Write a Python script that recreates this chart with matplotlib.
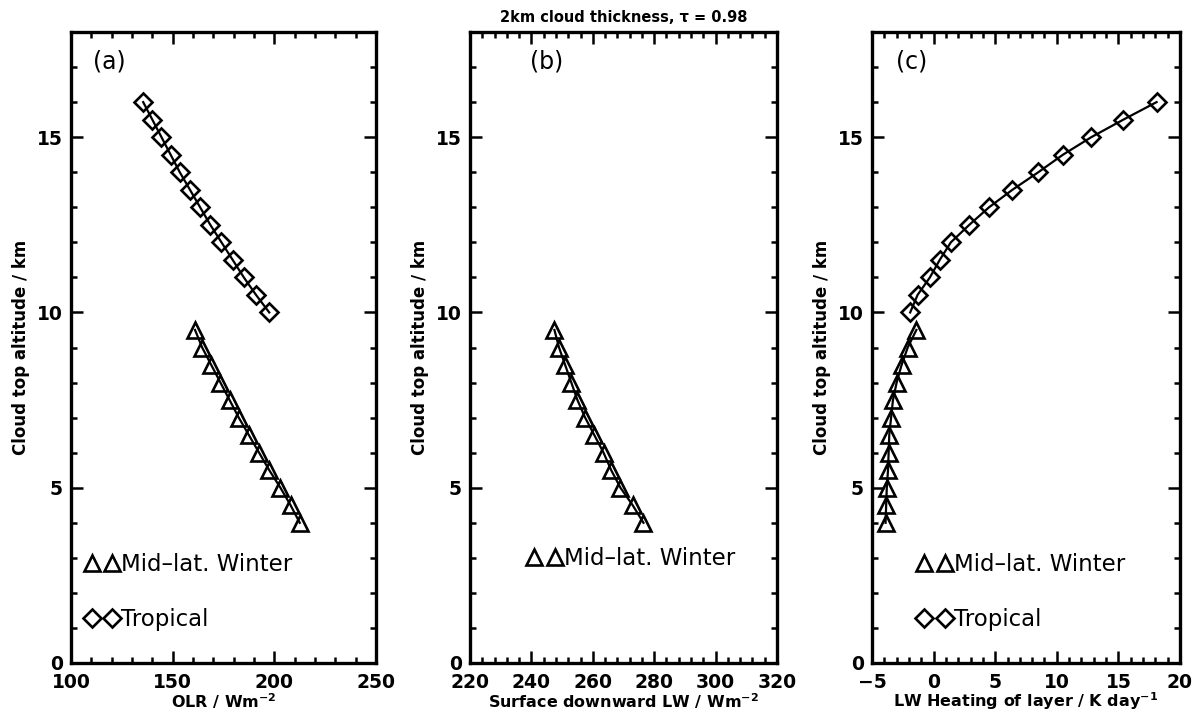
import matplotlib
matplotlib.use("Agg")
import matplotlib.pyplot as plt
from matplotlib.ticker import MultipleLocator
from matplotlib.lines import Line2D

# ---------------- data ----------------
alt_trop = [16.0, 15.5, 15.0, 14.5, 14.0, 13.5, 13.0, 12.5, 12.0, 11.5, 11.0, 10.5, 10.0]
alt_mlw = [9.5, 9.0, 8.5, 8.0, 7.5, 7.0, 6.5, 6.0, 5.5, 5.0, 4.5, 4.0]

olr_trop = [135.5, 140.0, 144.5, 149.0, 153.5, 158.5, 163.5, 168.5, 174.0, 179.5, 185.0, 191.0, 197.5]
olr_mlw = [161.0, 164.5, 169.0, 173.5, 178.0, 182.5, 187.5, 192.5, 197.5, 203.0, 208.0, 212.5]

sdlw_mlw = [247.5, 249.0, 251.0, 253.0, 255.0, 257.5, 260.5, 263.5, 266.0, 269.0, 273.0, 276.5]

heat_trop = [18.1, 15.4, 12.8, 10.5, 8.5, 6.4, 4.5, 2.9, 1.4, 0.5, -0.3, -1.3, -1.9]
heat_mlw = [-1.4, -2.1, -2.6, -3.0, -3.3, -3.45, -3.6, -3.65, -3.7, -3.8, -3.85, -3.9]

panel_labels = ["(a)", "(b)", "(c)"]
xlabels = [r"OLR / Wm$^{-2}$", r"Surface downward LW / Wm$^{-2}$",
           r"LW Heating of layer / K day$^{-1}$"]
ylabel = "Cloud top altitude / km"
title = "2km cloud thickness, \u03c4 = 0.98"
leg_mlw = "Mid\u2013lat. Winter"
leg_trop = "Tropical"

xlims = [(100, 250), (220, 320), (-5, 20)]
xmajor = [50, 20, 5]
xminor = [10, 4, 1]

# ---------------- style ----------------
plt.rcParams['font.family'] = ['DejaVu Sans']
plt.rcParams['mathtext.default'] = 'bf'

fig = plt.figure(figsize=(11.95, 7.13), dpi=100)

W, H = 1195.0, 713.0
top_px, bot_px = 32.0, 663.0
lefts = [71.0, 470.0, 872.0]
widths = [305.0, 307.0, 308.0]
hpx = bot_px - top_px

mk_kw = dict(markerfacecolor='none', markeredgecolor='black', markeredgewidth=1.9)
tri_ms = 11
dia_ms = 9.5

axes = []
for i in range(3):
    ax = fig.add_axes([lefts[i] / W, 1 - bot_px / H, widths[i] / W, hpx / H])
    axes.append(ax)
    ax.set_xlim(*xlims[i])
    ax.set_ylim(0, 18)
    ax.xaxis.set_major_locator(MultipleLocator(xmajor[i]))
    ax.xaxis.set_minor_locator(MultipleLocator(xminor[i]))
    ax.yaxis.set_major_locator(MultipleLocator(5))
    ax.yaxis.set_minor_locator(MultipleLocator(1))
    ax.tick_params(which='both', direction='in', top=True, right=True, width=1.8, color='black')
    ax.tick_params(which='major', length=8.5, labelsize=13.5)
    ax.tick_params(axis='x', which='major', pad=7.5)
    ax.tick_params(axis='y', which='major', pad=6)
    ax.tick_params(which='minor', length=4.5)
    for lab in ax.get_xticklabels():
        lab.set_fontweight('bold')
    for lab in ax.get_yticklabels():
        lab.set_fontweight('bold')
        lab.set_va('center_baseline')
    for s in ax.spines.values():
        s.set_linewidth(2.4)
    ax.set_ylabel(ylabel, fontsize=12, fontweight='bold')
    ax.yaxis.label.set_va('center')
    ax.yaxis.set_label_coords(-50.0 / widths[i], 0.5)
    ax.set_xlabel(xlabels[i], fontsize=11.5, fontweight='bold')
    ax.xaxis.label.set_va('center')
    ax.xaxis.set_label_coords(0.5, -(701.5 - bot_px) / hpx)

axa, axb, axc = axes
# panel a
axa.plot(olr_trop, alt_trop, color='black', lw=1.6, marker='D', markersize=dia_ms, **mk_kw)
axa.plot(olr_mlw, alt_mlw, color='black', lw=1.6, marker='^', markersize=tri_ms, **mk_kw)
# panel b
axb.plot(sdlw_mlw, alt_mlw, color='black', lw=1.6, marker='^', markersize=tri_ms, **mk_kw)
# panel c
axc.plot(heat_trop, alt_trop, color='black', lw=1.6, marker='D', markersize=dia_ms, **mk_kw)
axc.plot(heat_mlw, alt_mlw, color='black', lw=1.6, marker='^', markersize=tri_ms, **mk_kw)

# panel labels
label_x = [0.125, 0.248, 0.13]
for ax, lab, lx in zip(axes, panel_labels, label_x):
    ax.text(lx, 1 - (62 - top_px) / hpx, lab, transform=ax.transAxes, fontsize=17,
            ha='center', va='center')

fig.text((lefts[1] + widths[1] / 2) / W, 1 - 18 / H, title, fontsize=10.5, fontweight='bold',
         ha='center', va='center')

# legends
h_mlw = Line2D([], [], linestyle='none', marker='^', markersize=tri_ms, **mk_kw)
h_trop = Line2D([], [], linestyle='none', marker='D', markersize=dia_ms, **mk_kw)

leg_kw = dict(numpoints=2, frameon=False, fontsize=16.5, handlelength=1.5,
              handletextpad=0.1, labelspacing=1.4, borderaxespad=0, loc='center left')

axa.legend([h_mlw, h_trop], [leg_mlw, leg_trop], bbox_to_anchor=(0.015, 0.113), **leg_kw)
axb.legend([h_mlw], [leg_mlw], bbox_to_anchor=(0.157, 0.166), **leg_kw)
axc.legend([h_mlw, h_trop], [leg_mlw, leg_trop], bbox_to_anchor=(0.118, 0.113), **leg_kw)

fig.savefig("out.png", dpi=100)
